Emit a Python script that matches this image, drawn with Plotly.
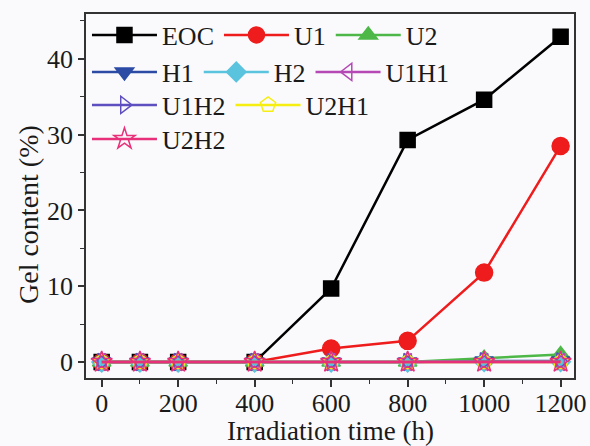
import plotly.graph_objects as go

times = [0, 100, 200, 400, 600, 800, 1000, 1200]
eoc = [0, 0, 0, 0, 9.7, 29.3, 34.6, 42.9]
u1 = [0, 0, 0, 0, 1.8, 2.8, 11.8, 28.5]
u2 = [0, 0, 0, 0, 0, 0, 0.5, 1.0]
h1 = [0, 0, 0, 0, 0, 0, 0.15, 0.15]
h2 = [0, 0, 0, 0, 0, 0, 0.05, 0.05]
u1h1 = [0, 0, 0, 0, 0, 0, 0, 0]
u1h2 = [0, 0, 0, 0, 0, 0, 0.1, 0.1]
u2h1 = [0, 0, 0, 0, 0, 0, 0, 0]
u2h2 = [0, 0, 0, 0, 0, 0, 0, 0]

x_ticks = [0, 200, 400, 600, 800, 1000, 1200]
y_ticks = [0, 10, 20, 30, 40]

series = [
    ("EOC", eoc, "#000000", "square", 15, "legend"),
    ("U1", u1, "#EE1C1C", "circle", 17, "legend"),
    ("U2", u2, "#4DB848", "triangle-up", 16, "legend"),
    ("H1", h1, "#2B4BA5", "triangle-down", 16, "legend2"),
    ("H2", h2, "#5AC3DD", "diamond", 15, "legend2"),
    ("U1H1", u1h1, "#B548B5", "triangle-left-open", 15, "legend2"),
    ("U1H2", u1h2, "#5E4FC0", "triangle-right-open", 15, "legend3"),
    ("U2H1", u2h1, "#F5EE10", "pentagon-open", 16, "legend3"),
    ("U2H2", u2h2, "#E8307A", "star-open", 16, "legend4"),
]

fig = go.Figure()
for name, ys, col, sym, sz, lg in series:
    fig.add_trace(go.Scatter(
        x=times, y=ys, name=name, mode="lines+markers",
        line=dict(color=col, width=2.5),
        marker=dict(symbol=sym, size=sz, color=col, line=dict(color=col, width=1.5)),
        legend=lg,
    ))

FONT = "Liberation Serif, Times New Roman, serif"
BG = "#FAFAFD"

def row_legend(yc):
    return dict(
        orientation="h", x=0.002, xanchor="left", y=yc, yanchor="middle",
        bgcolor="rgba(0,0,0,0)", borderwidth=0,
        font=dict(family=FONT, size=26, color="#1a1a1a"),
        itemwidth=65, tracegroupgap=0,
    )

left, right, top, bottom = 86, 574, 14, 378
w = right - left
h = bottom - top
def px(xp):
    return (xp - left) / w
def py(yp):
    return 1 - (yp - top) / h

fig.update_layout(
    width=590, height=446,
    margin=dict(l=left, r=590 - right, t=top, b=446 - bottom, autoexpand=False),
    paper_bgcolor=BG, plot_bgcolor=BG,
    font=dict(family=FONT, size=25, color="#1a1a1a"),
    legend=row_legend(py(35)),
    legend2=row_legend(py(72)),
    legend3=row_legend(py(105)),
    legend4=row_legend(py(139)),
    xaxis=dict(
        range=[-41, 1235], tickvals=x_ticks, ticktext=[str(v) for v in x_ticks],
        ticks="outside", ticklen=7, tickwidth=1.5, tickcolor="#333",
        minor=dict(dtick=100, tick0=0, ticks="outside", ticklen=4, tickwidth=1.2, tickcolor="#333"),
        showline=True, linecolor="#333", linewidth=1.5, mirror=True,
        showgrid=False, zeroline=False, automargin=False,
        tickfont=dict(family=FONT, size=26), ticklabelstandoff=-6,
    ),
    yaxis=dict(
        range=[-2.1, 45.9], tickvals=y_ticks, ticktext=[str(v) for v in y_ticks],
        ticks="outside", ticklen=6, tickwidth=1.5, tickcolor="#333",
        minor=dict(dtick=5, tick0=0, ticks="outside", ticklen=4, tickwidth=1.2, tickcolor="#333"),
        showline=True, linecolor="#333", linewidth=1.5, mirror=True,
        showgrid=False, zeroline=False, automargin=False,
        tickfont=dict(family=FONT, size=26),
    ),
    annotations=[
        dict(
            text="Gel content (%)", textangle=-90, xref="paper", yref="paper",
            x=px(28), y=py(215), xanchor="center", yanchor="middle",
            showarrow=False, font=dict(family=FONT, size=28, color="#1a1a1a"),
        ),
        dict(
            text="Irradiation time (h)", xref="paper", yref="paper",
            x=px(330), y=py(431), xanchor="center", yanchor="middle",
            showarrow=False, font=dict(family=FONT, size=27, color="#1a1a1a"),
        ),
    ],
)

fig.write_html("out.html")
